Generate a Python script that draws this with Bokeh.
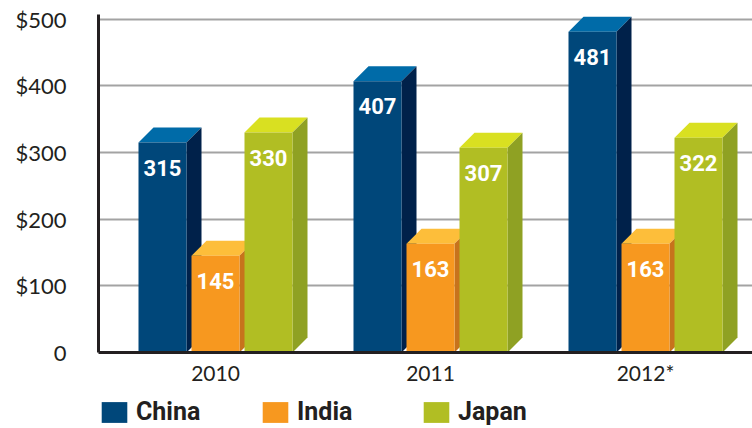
from bokeh.plotting import figure
from bokeh.layouts import column
from bokeh.models import Range1d, FixedTicker, Legend, LegendItem
from bokeh.core.properties import value
from bokeh.embed import file_html
from bokeh.resources import INLINE

# ---- data ----
years = ["2010", "2011", "2012*"]
series = ["China", "India", "Japan"]
china = [315, 407, 481]
india = [145, 163, 163]
japan = [330, 307, 322]
y_ticks = [0, 100, 200, 300, 400, 500]
y_tick_labels = ["0", "$100", "$200", "$300", "$400", "$500"]

front_colors = ["#00477A", "#F7981F", "#B1BE23"]
top_colors = ["#006BA8", "#FDBE3A", "#D9E021"]
side_colors = ["#00214A", "#C7731C", "#8FA123"]

# ---- geometry constants (layout, not data) ----
PX = 215.0            # pixels per group unit
slot = 53 / PX        # spacing between bars in a group
bw = 48 / PX          # front face width
ddx = 15 / PX         # depth offset in x
YS = 338 / 507        # pixels per value unit
ddy = 15 / YS         # depth offset in value units

p = figure(width=752, height=392, output_backend="svg", toolbar_location=None,
           x_range=Range1d(-117 / PX, 2 + 107 / PX), y_range=Range1d(0, 507),
           min_border_left=98, min_border_right=0, min_border_top=14,
           min_border_bottom=40)
p.outline_line_color = None
p.background_fill_color = "white"
p.border_fill_color = "white"

all_values = [china, india, japan]
for s, (name, vals) in enumerate(zip(series, all_values)):
    lefts, rights, tops = [], [], []
    side_xs, side_ys, top_xs, top_ys = [], [], [], []
    cx_list, ly_list, lab = [], [], []
    for g, v in enumerate(vals):
        c = g + (s - 1) * slot
        l, r = c - bw / 2, c + bw / 2
        lefts.append(l); rights.append(r); tops.append(v)
        side_xs.append([r, r + ddx, r + ddx, r])
        side_ys.append([0, ddy, v + ddy, v])
        top_xs.append([l, l + ddx, r + ddx, r])
        top_ys.append([v, v + ddy, v + ddy, v])
        cx_list.append(c)
        ly_list.append(v - 25 / YS)
        lab.append(str(v))
    p.patches(top_xs, top_ys, fill_color=top_colors[s], line_color=None)
    p.patches(side_xs, side_ys, fill_color=side_colors[s], line_color=None)
    p.quad(left=lefts, right=rights, bottom=0, top=tops,
           fill_color=front_colors[s], line_color=None)
    p.text(x=cx_list, y=ly_list, text=lab, text_color="white",
           text_font=value("Roboto"), text_font_style="bold",
           text_font_size="22px", text_align="center", text_baseline="middle")

# axes
p.xaxis.ticker = FixedTicker(ticks=[0, 1, 2])
p.xaxis.major_label_overrides = {i: y for i, y in enumerate(years)}
p.yaxis.ticker = FixedTicker(ticks=y_ticks)
p.yaxis.major_label_overrides = {t: l for t, l in zip(y_ticks, y_tick_labels)}
for ax in (p.xaxis[0], p.yaxis[0]):
    ax.axis_line_color = "#231F20"
    ax.axis_line_width = 3
    ax.major_tick_line_color = None
    ax.minor_tick_line_color = None
    ax.major_label_text_font = "Lato"
    ax.major_label_text_color = "#231F20"
p.yaxis.major_label_text_font_size = "22px"
p.yaxis.major_label_standoff = 26
p.xaxis.major_label_text_font_size = "21px"
p.xaxis.major_label_standoff = 1
p.xgrid.grid_line_color = None
p.ygrid.grid_line_color = "#A3A3A3"
p.ygrid.grid_line_width = 2

# ---- legend strip ----
p2 = figure(width=752, height=36, output_backend="svg", toolbar_location=None,
            x_range=Range1d(0, 1), y_range=Range1d(0, 1),
            x_axis_location=None, y_axis_location=None,
            min_border_left=0, min_border_right=0, min_border_top=0,
            min_border_bottom=0)
p2.outline_line_color = None
p2.grid.visible = False
items = []
for s, name in enumerate(series):
    # zero-size swatch renderer used only for the legend key
    r = p2.quad(left=[0], right=[0], top=[0], bottom=[0],
                fill_color=front_colors[s], line_color=None)
    items.append(LegendItem(label=name, renderers=[r]))
legend = Legend(items=items, orientation="horizontal", location=(0, 2),
                glyph_width=32, glyph_height=26, label_width=100, spacing=23,
                label_standoff=6, padding=0, margin=0,
                border_line_color=None, background_fill_alpha=0,
                label_text_font="Roboto", label_text_font_style="bold",
                label_text_font_size="25px", label_text_color="#231F20")
p2.add_layout(legend)

layout = column(p, p2, spacing=0)
open("out.html", "w").write(file_html(layout, INLINE))
